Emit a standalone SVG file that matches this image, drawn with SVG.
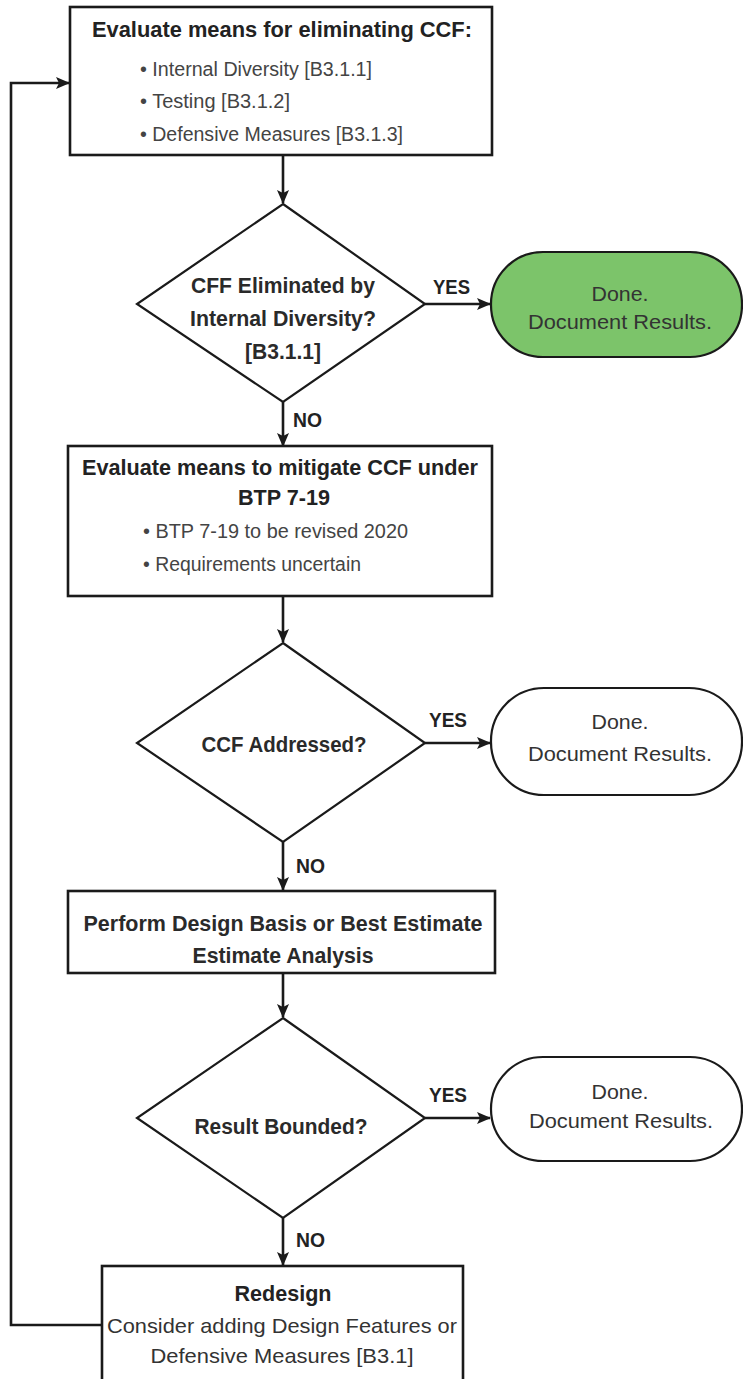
<svg xmlns="http://www.w3.org/2000/svg" width="743" height="1379" viewBox="0 0 743 1379">
<defs>
<style>
text{font-family:"Liberation Sans","DejaVu Sans",sans-serif;text-anchor:middle;fill:#222}
.t{font-size:22px;font-weight:bold}
.d{font-size:22px;font-weight:bold;fill:#2a2a2a}
.b{font-size:20px;text-anchor:start;fill:#444}
.r{font-size:21px;fill:#333}
.l{font-size:20px;font-weight:bold;text-anchor:start}
.box{fill:#fff;stroke:#1a1a1a;stroke-width:2.6}
.dia{fill:#fff;stroke:#1a1a1a;stroke-width:2.2}
.term{fill:#fff;stroke:#1a1a1a;stroke-width:2.2}
.conn{fill:none;stroke:#1a1a1a;stroke-width:2.6}
</style>
<marker id="ah" markerUnits="userSpaceOnUse" markerWidth="14" markerHeight="14" viewBox="0 0 14 14" refX="13" refY="7" orient="auto">
<path d="M0,1 L14,7 L0,13 L3,7 Z" fill="#1a1a1a"/>
</marker>
</defs>

<g id="connectors">
<path class="conn" d="M283,155 V203" marker-end="url(#ah)"/>
<path class="conn" d="M425,304 H490" marker-end="url(#ah)"/>
<path class="conn" d="M283,402 V446" marker-end="url(#ah)"/>
<path class="conn" d="M283,596 V642" marker-end="url(#ah)"/>
<path class="conn" d="M425,743 H490" marker-end="url(#ah)"/>
<path class="conn" d="M283,842 V890" marker-end="url(#ah)"/>
<path class="conn" d="M283,973 V1017" marker-end="url(#ah)"/>
<path class="conn" d="M425,1118 H490" marker-end="url(#ah)"/>
<path class="conn" d="M283,1218 V1265" marker-end="url(#ah)"/>
<path class="conn" d="M102,1325 H11 V83 H69" marker-end="url(#ah)"/>
<text class="l" x="433" y="294" textLength="37" lengthAdjust="spacingAndGlyphs">YES</text>
<text class="l" x="293" y="427" textLength="29" lengthAdjust="spacingAndGlyphs">NO</text>
<text class="l" x="429" y="727" textLength="38" lengthAdjust="spacingAndGlyphs">YES</text>
<text class="l" x="296" y="873" textLength="29" lengthAdjust="spacingAndGlyphs">NO</text>
<text class="l" x="429" y="1102" textLength="38" lengthAdjust="spacingAndGlyphs">YES</text>
<text class="l" x="296" y="1247" textLength="29" lengthAdjust="spacingAndGlyphs">NO</text>
</g>

<g id="box1">
<rect class="box" x="70" y="7" width="422" height="148"/>
<text class="t" x="282" y="37" textLength="380" lengthAdjust="spacingAndGlyphs">Evaluate means for eliminating CCF:</text>
<text class="b" x="140" y="76" textLength="232" lengthAdjust="spacingAndGlyphs">• Internal Diversity [B3.1.1]</text>
<text class="b" x="140" y="108" textLength="150" lengthAdjust="spacingAndGlyphs">• Testing [B3.1.2]</text>
<text class="b" x="140" y="141" textLength="263" lengthAdjust="spacingAndGlyphs">• Defensive Measures [B3.1.3]</text>
</g>

<g id="decision1">
<polygon class="dia" points="283,204 425,304 283,402 137,304"/>
<text class="d" x="283" y="293" textLength="184" lengthAdjust="spacingAndGlyphs">CFF Eliminated by</text>
<text class="d" x="283" y="326" textLength="186" lengthAdjust="spacingAndGlyphs">Internal Diversity?</text>
<text class="d" x="283" y="359" textLength="76" lengthAdjust="spacingAndGlyphs">[B3.1.1]</text>
</g>

<g id="done1">
<rect x="491" y="252" width="251" height="105" rx="52" ry="52" fill="#7cc46a" stroke="#1a1a1a" stroke-width="2.2"/>
<text class="r" x="620" y="301" textLength="57" lengthAdjust="spacingAndGlyphs">Done.</text>
<text class="r" x="620" y="329" textLength="184" lengthAdjust="spacingAndGlyphs">Document Results.</text>
</g>

<g id="box2">
<rect class="box" x="68" y="446" width="424" height="150"/>
<text class="t" x="280" y="475" textLength="396" lengthAdjust="spacingAndGlyphs">Evaluate means to mitigate CCF under</text>
<text class="t" x="284" y="505" textLength="92" lengthAdjust="spacingAndGlyphs">BTP 7-19</text>
<text class="b" x="143" y="538" textLength="265" lengthAdjust="spacingAndGlyphs">• BTP 7-19 to be revised 2020</text>
<text class="b" x="143" y="571" textLength="218" lengthAdjust="spacingAndGlyphs">• Requirements uncertain</text>
</g>

<g id="decision2">
<polygon class="dia" points="283,643 425,743 283,842 137,743"/>
<text class="d" x="284" y="752" textLength="165" lengthAdjust="spacingAndGlyphs">CCF Addressed?</text>
</g>

<g id="done2">
<rect class="term" x="491" y="688" width="251" height="107" rx="53" ry="53"/>
<text class="r" x="620" y="729" textLength="57" lengthAdjust="spacingAndGlyphs">Done.</text>
<text class="r" x="620" y="761" textLength="184" lengthAdjust="spacingAndGlyphs">Document Results.</text>
</g>

<g id="box3">
<rect class="box" x="68" y="891" width="427" height="82"/>
<text class="d" x="283" y="931" textLength="399" lengthAdjust="spacingAndGlyphs">Perform Design Basis or Best Estimate</text>
<text class="d" x="283" y="963" textLength="181" lengthAdjust="spacingAndGlyphs">Estimate Analysis</text>
</g>

<g id="decision3">
<polygon class="dia" points="283,1018 425,1118 283,1218 137,1118"/>
<text class="d" x="281" y="1134" textLength="173" lengthAdjust="spacingAndGlyphs">Result Bounded?</text>
</g>

<g id="done3">
<rect class="term" x="491" y="1057" width="251" height="104" rx="52" ry="52"/>
<text class="r" x="620" y="1099" textLength="57" lengthAdjust="spacingAndGlyphs">Done.</text>
<text class="r" x="621" y="1128" textLength="184" lengthAdjust="spacingAndGlyphs">Document Results.</text>
</g>

<g id="box4">
<rect class="box" x="102" y="1266" width="361" height="130"/>
<text class="t" x="283" y="1301" textLength="97" lengthAdjust="spacingAndGlyphs">Redesign</text>
<text class="r" x="282" y="1333" textLength="350" lengthAdjust="spacingAndGlyphs">Consider adding Design Features or</text>
<text class="r" x="282" y="1363" textLength="263" lengthAdjust="spacingAndGlyphs">Defensive Measures [B3.1]</text>
</g>
</svg>
